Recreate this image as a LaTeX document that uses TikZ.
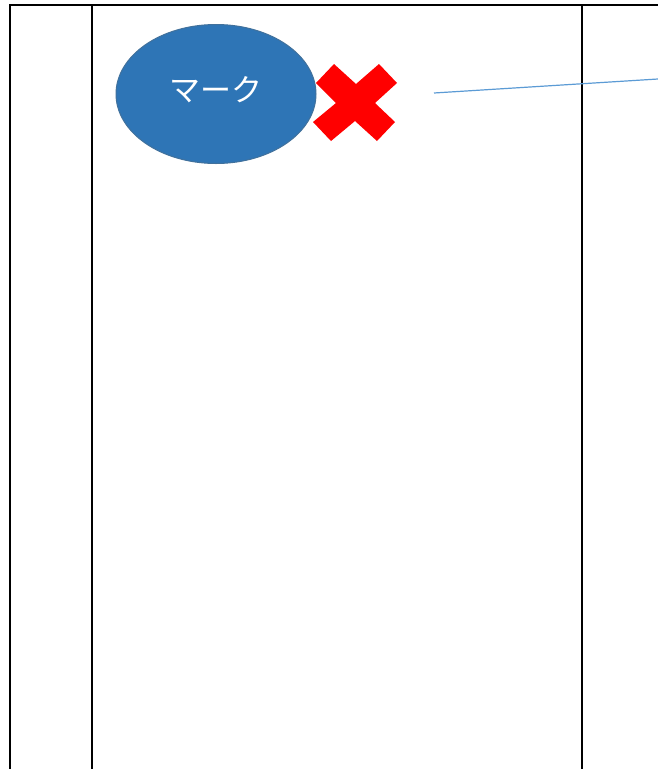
\documentclass[tikz,border=0pt]{standalone}
\usepackage{fontspec}
\usetikzlibrary{shapes.geometric}
\newfontfamily\cjk{Noto Sans CJK JP}
\definecolor{markblue}{HTML}{2E75B6}
\definecolor{markedge}{HTML}{41719C}
\definecolor{lineblue}{HTML}{5B9BD5}
\tikzset{
  frame/.style={line width=2pt, black},
  markbox/.style={ellipse, fill=markblue, draw=markedge, line width=1pt,
    minimum width=200pt, minimum height=139pt, inner sep=0pt},
  marktext/.style={text=white, font=\cjk\fontsize{31}{36}\selectfont, inner sep=0pt},
  crossmark/.style={fill=red, draw=none},
  thinlink/.style={lineblue, line width=1.2pt}
}
\begin{document}
\begin{tikzpicture}[x=1pt,y=-1pt]
\useasboundingbox (0,0) rectangle (658,769);
\fill[white] (0,0) rectangle (658,769);
% frame
\draw[frame] (10,769) -- (10,5) -- (658,5);
\draw[frame] (92,5) -- (92,769);
\draw[frame] (582,5) -- (582,769);
% mark
\node[markbox] (mark) at (216,94) {};
\node[marktext] (marklabel) at (216,90) {マーク};
% cross
\fill[crossmark] (316,83) -- (334,64) -- (356,84) -- (379,64) -- (397,83) -- (375,103)
  -- (395,122) -- (377,141) -- (355,121) -- (331,141) -- (313,122) -- (336,103) -- cycle;
% thin line
\coordinate (la) at (434,93);
\coordinate (lb) at (658,79);
\draw[thinlink] (la) -- (lb);
\end{tikzpicture}
\end{document}
